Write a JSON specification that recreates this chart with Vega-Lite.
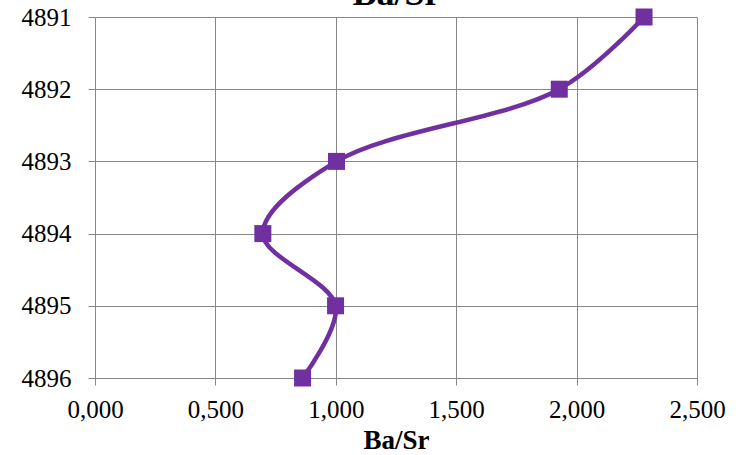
{
  "$schema": "https://vega.github.io/schema/vega-lite/v6.json",
  "width": 602,
  "height": 361,
  "autosize": {"type": "none"},
  "padding": {"left": 95, "top": 17, "right": 42, "bottom": 77},
  "background": "white",
  "data": {
    "values": [
      {"depth": 4891, "ratio": 2.28},
      {"depth": 4892, "ratio": 1.928},
      {"depth": 4893, "ratio": 1.003},
      {"depth": 4894, "ratio": 0.697},
      {"depth": 4895, "ratio": 0.999},
      {"depth": 4896, "ratio": 0.862}
    ]
  },
  "config": {
    "font": "Liberation Serif",
    "view": {"stroke": null},
    "axis": {
      "labelFont": "Liberation Serif",
      "labelFontSize": 25,
      "labelColor": "black",
      "titleFont": "Liberation Serif",
      "titleColor": "black",
      "gridColor": "#878787",
      "gridOpacity": 1,
      "gridWidth": 1,
      "domainColor": "#878787",
      "domainWidth": 1,
      "tickColor": "#878787",
      "tickSize": 7,
      "tickWidth": 1
    }
  },
  "resolve": {"axis": {"x": "independent"}},
  "layer": [
    {
      "mark": {"type": "line", "interpolate": "catmull-rom", "color": "#7030A0", "strokeWidth": 4.5, "clip": false},
      "encoding": {
        "x": {
          "field": "ratio",
          "type": "quantitative",
          "scale": {"domain": [0, 2.5], "nice": false, "zero": false},
          "axis": {
            "values": [0, 0.5, 1, 1.5, 2, 2.5],
            "labelExpr": "replace(format(datum.value, '.3f'), '.', ',')",
            "labelPadding": 12,
            "title": "Ba/Sr",
            "titleFontSize": 27,
            "titleFontWeight": "bold",
            "titlePadding": 5,
            "grid": true,
            "labelFlush": false,
            "labelOverlap": false
          }
        },
        "y": {
          "field": "depth",
          "type": "quantitative",
          "scale": {"domain": [4891, 4896], "reverse": true, "nice": false, "zero": false},
          "axis": {
            "values": [4891, 4892, 4893, 4894, 4895, 4896],
            "format": "d",
            "labelPadding": 17,
            "title": null,
            "grid": true,
            "labelFlush": false,
            "labelOverlap": false
          }
        },
        "order": {"field": "depth"}
      }
    },
    {
      "mark": {"type": "point", "shape": "square", "filled": true, "size": 289, "color": "#7030A0", "opacity": 1, "clip": false},
      "encoding": {
        "x": {
          "field": "ratio",
          "type": "quantitative",
          "axis": {
            "orient": "top",
            "labels": false,
            "ticks": false,
            "domain": false,
            "grid": false,
            "title": "Ba/Sr",
            "titleFontSize": 36,
            "titleFontWeight": "bold",
            "titleBaseline": "alphabetic",
            "titleAnchor": "middle",
            "titleY": -13
          }
        },
        "y": {"field": "depth", "type": "quantitative"}
      }
    }
  ]
}
